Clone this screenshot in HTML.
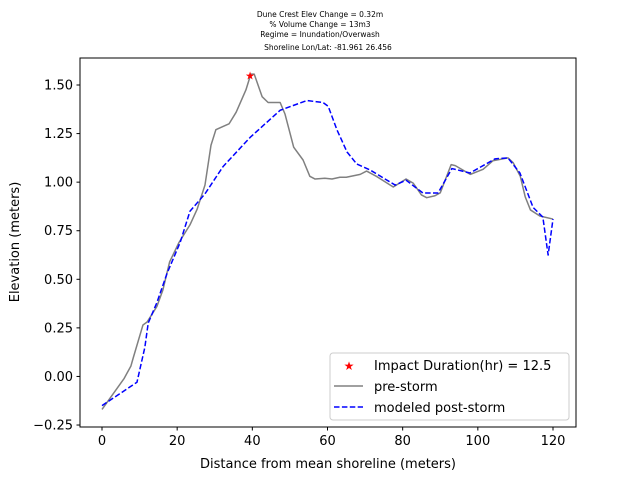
<!DOCTYPE html>
<html><head><meta charset="utf-8"><style>
body{margin:0;background:#fff;}
svg{display:block;font-family:"DejaVu Sans","Liberation Sans",sans-serif;}
</style></head><body>
<svg id="chart" width="640" height="480" viewBox="0 0 640 480">
<rect width="640" height="480" fill="#fff"/>
<g font-size="7.5" text-anchor="middle" fill="#000">
<text x="320" y="17">Dune Crest Elev Change = 0.32m</text>
<text x="320" y="27">% Volume Change = 13m3</text>
<text x="320" y="37">Regime = Inundation/Overwash</text>
<text x="328" y="50">Shoreline Lon/Lat: -81.961 26.456</text>
</g>
<g id="plot"></g>
<rect x="80" y="58" width="496" height="369" fill="none" stroke="#000" stroke-width="1"/>
<g id="axes" font-size="13" fill="#000"></g>
<text x="328" y="468" font-size="13" text-anchor="middle">Distance from mean shoreline (meters)</text>
<text transform="translate(19,242) rotate(-90)" font-size="13" text-anchor="middle">Elevation (meters)</text>
<g>
<rect x="330" y="353" width="239" height="67" rx="3" fill="#fff" fill-opacity="0.8" stroke="#ccc"/>
<text x="349" y="370" font-size="12" fill="red" text-anchor="middle">★</text>
<text x="374" y="370" font-size="13">Impact Duration(hr) = 12.5</text>
<line x1="334" y1="386" x2="363" y2="386" stroke="#808080" stroke-width="1.5"/>
<text x="374" y="391" font-size="13">pre-storm</text>
<line x1="334" y1="407" x2="363" y2="407" stroke="#0000ff" stroke-width="1.5" stroke-dasharray="5.5,2.4"/>
<text x="374" y="412" font-size="13">modeled post-storm</text>
</g>
</svg>
<script>
const preX=[0,5.9,7.7,8.3,10.9,12,14.6,16.2,18,20.5,23.4,25.3,27.4,29,30.3,32,33.8,35.7,38.3,39.6,40.5,42.6,44.2,47.4,48.7,51,53.5,55.3,56.7,59.3,61.2,63.3,65,68.7,70.4,73,77.5,80.9,82.8,85,86.4,88.6,90,92.9,94,98,101.4,104,108,109.4,111.3,112.6,114,116.5,120];
const preY=[-0.17,-0.01,0.054,0.095,0.265,0.28,0.36,0.445,0.59,0.69,0.78,0.86,0.985,1.19,1.27,1.285,1.30,1.36,1.475,1.556,1.556,1.44,1.41,1.41,1.35,1.18,1.114,1.03,1.016,1.02,1.016,1.025,1.025,1.04,1.057,1.03,0.975,1.016,0.995,0.934,0.92,0.93,0.945,1.09,1.085,1.04,1.066,1.11,1.125,1.10,1.03,0.925,0.857,0.826,0.81];
const postX=[0,9.3,11.4,12.3,14.6,17.3,20.8,23.4,27.4,32.2,39.4,47.4,54.5,58.8,60.2,62.5,65.2,67.8,71.3,78,80.9,85.4,89.4,93.1,97.9,104.6,108,111.2,114.7,117.3,118.7,120];
const postY=[-0.15,-0.03,0.15,0.275,0.38,0.53,0.69,0.85,0.94,1.08,1.23,1.37,1.42,1.41,1.39,1.27,1.155,1.093,1.063,0.985,1.01,0.944,0.944,1.07,1.047,1.12,1.125,1.047,0.87,0.82,0.625,0.81];
const starX=[39.4], starY=[1.55];
const xTicks=[0,20,40,60,80,100,120];
const yTicks=[-0.25,0,0.25,0.5,0.75,1.0,1.25,1.5];
const yTickLabels=["−0.25","0.00","0.25","0.50","0.75","1.00","1.25","1.50"];
const NS='http://www.w3.org/2000/svg';
const sx=d=>102+(d-0)*(451/120);
const sy=v=>85+(1.5-v)*194.3;
const plot=document.getElementById('plot'), axes=document.getElementById('axes');
function mk(t,a,p){const e=document.createElementNS(NS,t);for(const k in a)e.setAttribute(k,a[k]);p.appendChild(e);return e;}
let e=mk('polyline',{points:preX.map((x,i)=>sx(x)+','+sy(preY[i])).join(' '),fill:'none',stroke:'#808080','stroke-width':1.5,'stroke-linejoin':'round'},plot);


e=mk('polyline',{points:postX.map((x,i)=>sx(x)+','+sy(postY[i])).join(' '),fill:'none',stroke:'#0000ff','stroke-width':1.5,'stroke-dasharray':'5.5,2.4','stroke-linejoin':'round'},plot);


starX.forEach((x,i)=>{const t=mk('text',{x:sx(x),y:sy(starY[i])+4,'font-size':11,fill:'red','text-anchor':'middle'},plot);t.textContent='★';

});
xTicks.forEach(v=>{const l=mk('line',{x1:sx(v),x2:sx(v),y1:427,y2:430.5,stroke:'#000'},axes);


const t=mk('text',{x:sx(v),y:445,'text-anchor':'middle',fill:'#000'},axes);t.textContent=v;

});
yTicks.forEach((v,i)=>{const l=mk('line',{x1:76.5,x2:80,y1:sy(v),y2:sy(v),stroke:'#000'},axes);


const t=mk('text',{x:73,y:sy(v)+4.5,'text-anchor':'end',fill:'#000'},axes);t.textContent=yTickLabels[i];

});
</script>
</body></html>
